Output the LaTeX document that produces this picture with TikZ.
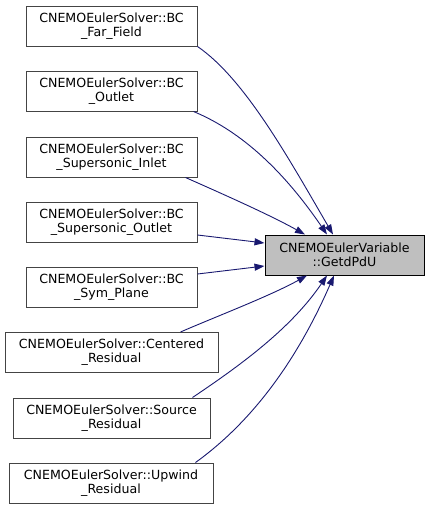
\documentclass[tikz,border=0pt]{standalone}
\usepackage{fontspec}
\setmainfont{DejaVu Sans}
\usetikzlibrary{arrows.meta}
\definecolor{edgeblue}{HTML}{191970}
\definecolor{boxgray}{HTML}{444444}
\definecolor{tfill}{HTML}{BFBFBF}
\tikzset{
  fn/.style={draw=boxgray, line width=1pt, fill=white, rectangle, minimum height=40pt, inner sep=0pt, align=center, font=\fontsize{12.6}{14}\selectfont},
  target/.style={fn, draw=black, fill=tfill},
  edge/.style={draw=edgeblue, line width=0.9pt, -{Triangle[length=10pt,width=7pt]}, color=edgeblue}
}
\begin{document}
\begin{tikzpicture}[x=1pt,y=-1pt]
\useasboundingbox (0,0) rectangle (428,509);
\node[fn, minimum width=171pt] (b1) at (111.5,26) {CNEMOEulerSolver::BC\\\_Far\_Field};
\node[fn, minimum width=171pt] (b2) at (111.5,91) {CNEMOEulerSolver::BC\\\_Outlet};
\node[fn, minimum width=171pt] (b3) at (111.5,157) {CNEMOEulerSolver::BC\\\_Supersonic\_Inlet};
\node[fn, minimum width=171pt] (b4) at (111.5,222) {CNEMOEulerSolver::BC\\\_Supersonic\_Outlet};
\node[fn, minimum width=171pt] (b5) at (111.5,287.5) {CNEMOEulerSolver::BC\\\_Sym\_Plane};
\node[fn, minimum width=213pt] (b6) at (111.5,352.5) {CNEMOEulerSolver::Centered\\\_Residual};
\node[fn, minimum width=197pt] (b7) at (111.5,418) {CNEMOEulerSolver::Source\\\_Residual};
\node[fn, minimum width=204pt] (b8) at (111,483) {CNEMOEulerSolver::Upwind\\\_Residual};
\node[target, minimum width=159pt] (t) at (344.5,255) {CNEMOEulerVariable\\::GetdPdU};

\draw[edge] (b1.south east) .. controls (245,79) and (289,159) .. ([xshift=-11.5pt]t.north);
\draw[edge] ([xshift=-4pt]b2.south east) .. controls (243,132) and (285,173) .. ([xshift=-17.5pt]t.north);
\draw[edge] ([xshift=-12pt]b3.south east) .. controls (225,195) and (270,215) .. ([xshift=-39.5pt]t.north);
\draw[edge] ([yshift=-13pt]b4.east) -- ([yshift=12pt]t.west);
\draw[edge] ([yshift=13.5pt]b5.east) -- ([yshift=-11pt]t.west);
\draw[edge] ([xshift=-38pt]b6.north east) .. controls (215,317) and (270,296) .. ([xshift=-37.5pt]t.south);
\draw[edge] ([xshift=-18pt]b7.north east) .. controls (244,363) and (292,327) .. ([xshift=-17.5pt]t.south);
\draw[edge] ([xshift=-18pt]b8.north east) .. controls (249,424) and (295,365) .. ([xshift=-10.5pt]t.south);
\end{tikzpicture}
\end{document}
